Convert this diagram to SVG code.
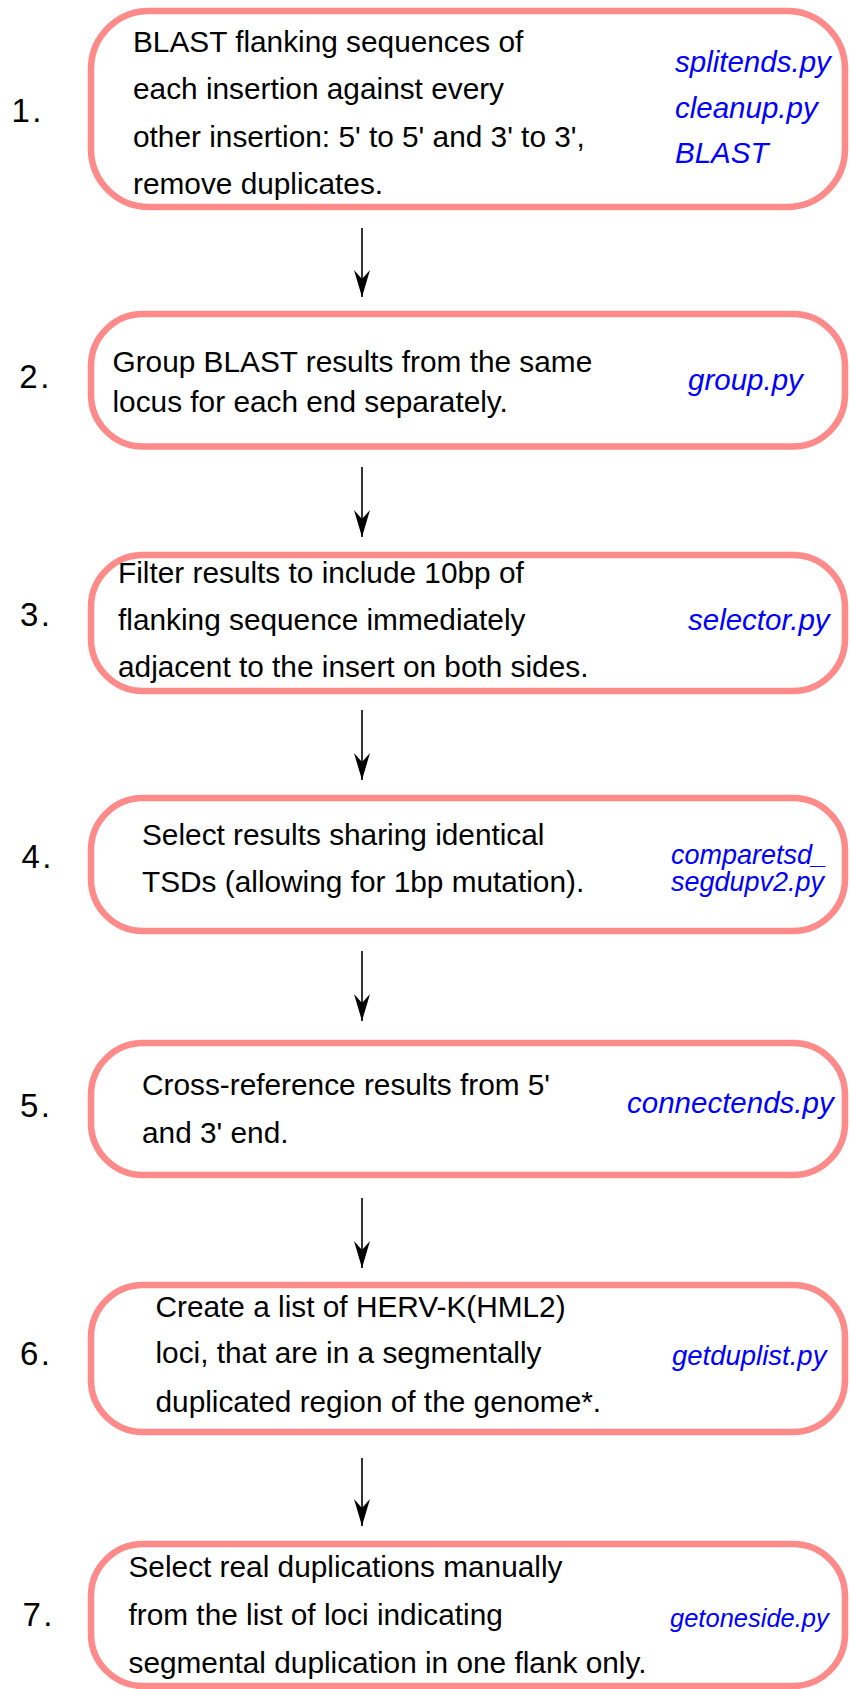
<svg xmlns="http://www.w3.org/2000/svg" width="850" height="1689" viewBox="0 0 850 1689">
<style>
.box{fill:#ffffff;stroke:#ff8a8a;stroke-width:6.5}
.t{font-family:"Liberation Sans",Arial,Helvetica,sans-serif;font-size:29.8px;fill:#000}
.n{font-family:"Liberation Sans",Arial,Helvetica,sans-serif;font-size:33px;letter-spacing:2.5px;fill:#000}
.s{font-family:"Liberation Sans",Arial,Helvetica,sans-serif;font-size:29.5px;font-style:italic;fill:#0000ff}
.c{stroke:#000;stroke-width:1.6;fill:none;marker-end:url(#ah)}
</style>
<defs>
<marker id="ah" markerUnits="userSpaceOnUse" markerWidth="30" markerHeight="20" viewBox="0 -10 30 20" refX="27" refY="0" orient="auto">
<path d="M27,0 L0,-8 L9,0 L0,8 Z" fill="#000"/>
</marker>
</defs>
<rect width="850" height="1689" fill="#ffffff"/>
<g id="connectors">
<line class="c" x1="362" y1="228" x2="362" y2="297"/>
<line class="c" x1="362" y1="467" x2="362" y2="537"/>
<line class="c" x1="362" y1="710" x2="362" y2="780"/>
<line class="c" x1="362" y1="951" x2="362" y2="1021"/>
<line class="c" x1="362" y1="1198" x2="362" y2="1268"/>
<line class="c" x1="362" y1="1458" x2="362" y2="1526"/>
</g>
<g id="step1">
<rect class="box" x="91" y="11" width="754" height="196" rx="58" ry="58"/>
<text class="n" x="11.4" y="122">1.</text>
<text class="t" x="133" y="52">BLAST flanking sequences of</text>
<text class="t" x="133" y="99">each insertion against every</text>
<text class="t" x="133" y="147">other insertion: 5' to 5' and 3' to 3',</text>
<text class="t" x="133" y="194">remove duplicates.</text>
<text class="s" x="675" y="72">splitends.py</text>
<text class="s" x="675" y="118">cleanup.py</text>
<text class="s" x="675" y="163">BLAST</text>
</g>
<g id="step2">
<rect class="box" x="91" y="314" width="754" height="132.5" rx="52" ry="52"/>
<text class="n" x="19.3" y="388">2.</text>
<text class="t" x="112.5" y="372">Group BLAST results from the same</text>
<text class="t" x="112.5" y="412">locus for each end separately.</text>
<text class="s" x="688" y="390">group.py</text>
</g>
<g id="step3">
<rect class="box" x="91" y="555" width="754" height="136" rx="52" ry="52"/>
<text class="n" x="20" y="626">3.</text>
<text class="t" x="118" y="583">Filter results to include 10bp of</text>
<text class="t" x="118" y="630">flanking sequence immediately</text>
<text class="t" x="118" y="677">adjacent to the insert on both sides.</text>
<text class="s" x="688" y="630">selector.py</text>
</g>
<g id="step4">
<rect class="box" x="91" y="798" width="754" height="133" rx="52" ry="52"/>
<text class="n" x="21.5" y="868">4.</text>
<text class="t" x="142" y="845">Select results sharing identical</text>
<text class="t" x="142" y="892">TSDs (allowing for 1bp mutation).</text>
<text class="s" x="671" y="864" style="font-size:27px">comparetsd_</text>
<text class="s" x="671" y="891" style="font-size:27px">segdupv2.py</text>
</g>
<g id="step5">
<rect class="box" x="91" y="1043" width="754" height="132" rx="52" ry="52"/>
<text class="n" x="20" y="1117">5.</text>
<text class="t" x="142" y="1095">Cross-reference results from 5'</text>
<text class="t" x="142" y="1143">and 3' end.</text>
<text class="s" x="627" y="1113">connectends.py</text>
</g>
<g id="step6">
<rect class="box" x="91" y="1285" width="754" height="147" rx="52" ry="52"/>
<text class="n" x="20" y="1365">6.</text>
<text class="t" x="155.5" y="1317">Create a list of HERV-K(HML2)</text>
<text class="t" x="155.5" y="1363">loci, that are in a segmentally</text>
<text class="t" x="155.5" y="1412">duplicated region of the genome*.</text>
<text class="s" x="672" y="1365" style="font-size:27.5px">getduplist.py</text>
</g>
<g id="step7">
<rect class="box" x="91" y="1544" width="754" height="142" rx="52" ry="52"/>
<text class="n" x="22.5" y="1626">7.</text>
<text class="t" x="128.5" y="1577">Select real duplications manually</text>
<text class="t" x="128.5" y="1625">from the list of loci indicating</text>
<text class="t" x="128.5" y="1673">segmental duplication in one flank only.</text>
<text class="s" x="670" y="1627" style="font-size:25.5px">getoneside.py</text>
</g>
</svg>
